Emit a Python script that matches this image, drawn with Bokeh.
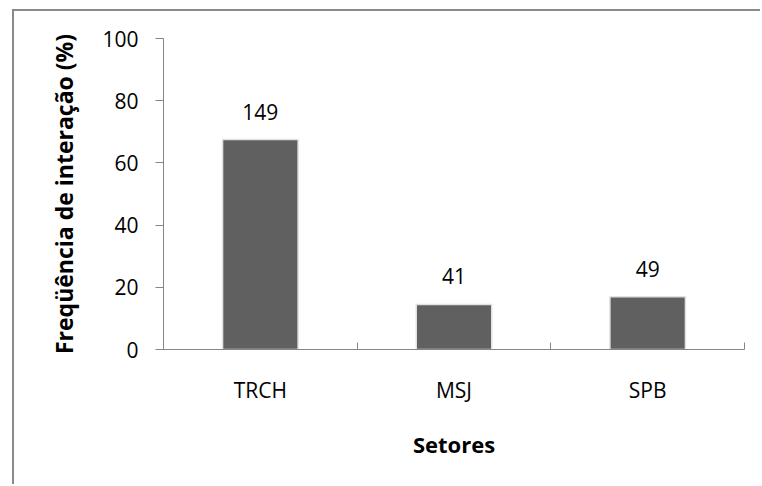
from bokeh.plotting import figure
from bokeh.models import ColumnDataSource, FixedTicker
from bokeh.core.properties import value
from bokeh.embed import file_html
from bokeh.resources import INLINE

categories = ["TRCH", "MSJ", "SPB"]
freq_pct = [67.5, 14.5, 17.0]
counts = ["149", "41", "49"]
y_ticks = [0, 20, 40, 60, 80, 100]

FONT = "Open Sans"
x_pos = [i + 0.5 for i in range(len(categories))]

src = ColumnDataSource(dict(x=x_pos, top=freq_pct, label=counts, cat=categories))

p = figure(width=748, height=475, output_backend="svg", toolbar_location=None,
           x_range=(0, len(categories)), y_range=(0, 100),
           min_border_left=149, min_border_right=18, min_border_top=27, min_border_bottom=137)
p.margin = (9, 0, 0, 12)
p.styles = {"border-top": "2px solid #8a8a8a", "border-left": "2px solid #8a8a8a"}
p.outline_line_color = None
p.xgrid.visible = False
p.ygrid.visible = False
p.background_fill_color = "white"
p.border_fill_color = "white"

p.vbar(x="x", top="top", width=0.39, bottom=0, source=src,
       fill_color="#606060", line_color="#e2e2e2", line_width=1.5)

p.text(x="x", y="top", text="label", source=src, text_align="center",
       text_baseline="alphabetic", y_offset=-28,
       text_font=value(FONT), text_font_size="21px", text_color="#000000")

# y axis
ya = p.yaxis[0]
ya.ticker = FixedTicker(ticks=y_ticks)
ya.axis_line_color = "#868686"
ya.major_tick_line_color = "#868686"
ya.major_tick_out = 8
ya.major_tick_in = 0
ya.minor_tick_line_color = None
ya.major_label_standoff = 17
ya.major_label_text_font = FONT
ya.major_label_text_font_size = "21px"
ya.major_label_text_color = "#000000"
ya.axis_label = "Freqüência de interação (%)"
ya.axis_label_text_font = FONT
ya.axis_label_text_font_style = "bold"
ya.axis_label_text_font_size = "23px"
ya.axis_label_text_color = "#000000"
ya.axis_label_standoff = 19

# x axis
xa = p.xaxis[0]
xa.ticker = FixedTicker(ticks=x_pos, minor_ticks=list(range(len(categories) + 1)))
xa.major_label_overrides = {x: c for x, c in zip(x_pos, categories)}
xa.axis_line_color = "#868686"
xa.major_tick_line_color = None
xa.major_tick_in = 0
xa.major_tick_out = 0
xa.minor_tick_line_color = "#868686"
xa.minor_tick_in = 7
xa.minor_tick_out = 0
xa.major_label_standoff = 26
xa.major_label_text_font = FONT
xa.major_label_text_font_size = "21px"
xa.major_label_text_color = "#000000"
xa.axis_label = "Setores"
xa.axis_label_text_font = FONT
xa.axis_label_text_font_style = "bold"
xa.axis_label_text_font_size = "22px"
xa.axis_label_text_color = "#000000"
xa.axis_label_standoff = 22

open("out.html", "w").write(file_html(p, INLINE))
